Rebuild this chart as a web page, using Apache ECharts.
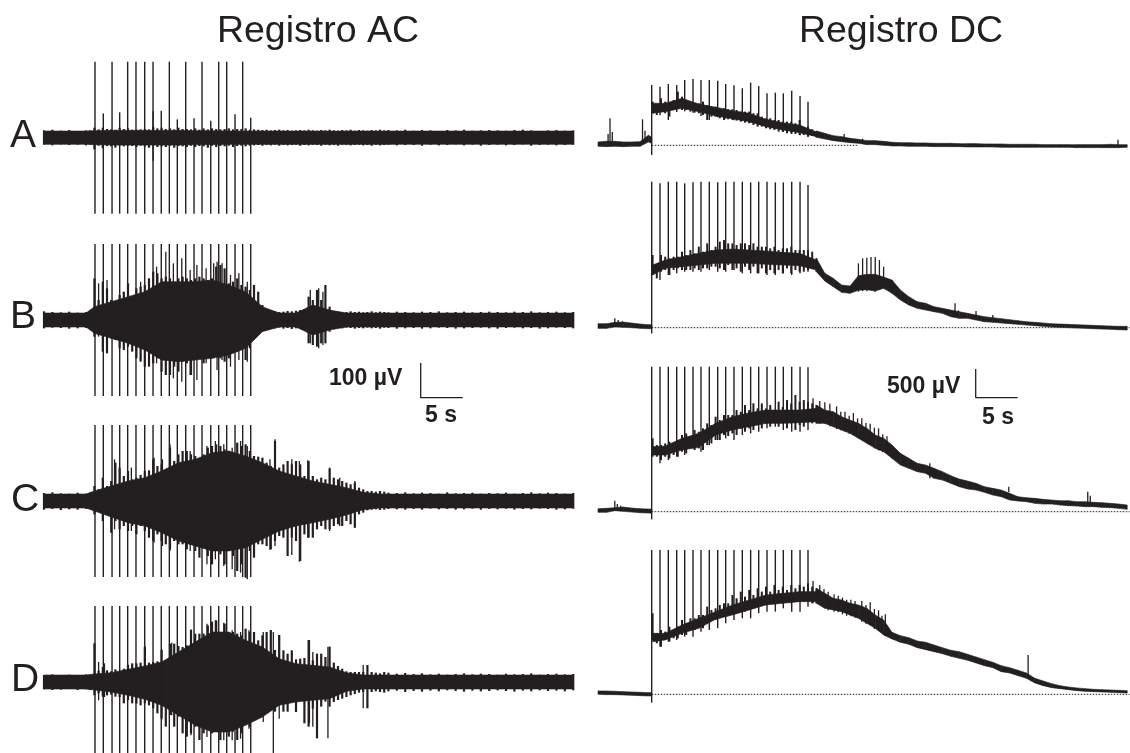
<!DOCTYPE html>
<html><head><meta charset="utf-8">
<style>html,body{margin:0;padding:0;background:#fff}#c{width:1130px;height:753px}</style>
<script src="https://cdn.jsdelivr.net/npm/echarts@6/dist/echarts.min.js"></script>
</head><body><div id="c"></div>
<script>
// AC traces: seconds, µV around the trace's rest level
const tAC=[0,1,2,3,4,5,5.5,6,6.5,7,
7.5,8,8.5,9,9.5,10,10.5,11,11.5,12,
12.5,13,13.5,14,14.5,15,15.5,16,16.5,17,
17.5,18,18.5,19,19.5,20,20.5,21,21.5,22,
22.5,23,23.5,24,24.5,25,25.5,26,26.5,27,
27.5,28,28.5,29,29.5,30,30.5,31,31.5,32,
32.5,33,33.5,34,34.5,35,35.5,36,36.5,37,
37.5,38,38.5,39,39.5,40,40.5,41,42,43,
44,45,46,47,48,49,50,51,52,53,
54,55,56,57,58,59,60,61,62,63];
const acHiA=[22,24,21,23,20,22,22,30,25,30,26,25,24,30,26,28,24,24,25,26,25,32,28,30,26,28,25,30,26,26,25,28,24,28,25,28,26,25,26,28,25,26,26,28,24,25,24,23,24,22,23,24,22,23,21,22,23,22,24,22,21,23,22,24,22,21,23,22,24,21,23,22,21,23,22,24,22,23,22,24,21,23,22,20,23,22,24,21,22,23,22,21,23,24,22,20,22,23,21,22];
const acLoA=[21,23,20,22,21,23,21,35,24,32,25,26,30,24,26,24,25,28,24,26,30,24,28,26,28,24,30,25,26,28,24,28,25,26,30,24,28,25,26,24,28,25,24,26,24,23,22,24,22,23,21,24,22,23,22,21,24,22,23,21,22,24,21,23,22,24,21,22,23,22,21,23,22,24,21,23,22,21,23,22,22,24,21,23,22,20,23,21,24,22,21,23,22,20,24,22,21,23,22,21];
const acHiB=[26,24,23,25,22,24,25,125,60,115,95,60,50,75,85,110,70,95,100,105,125,145,140,125,130,125,115,125,130,125,120,125,130,125,120,125,160,165,155,110,115,125,105,100,90,105,85,45,25,24,26,24,25,27,26,28,30,32,70,60,90,60,105,40,24,25,23,24,26,24,25,23,24,26,23,25,24,23,25,24,23,25,24,26,23,24,25,23,24,25,24,23,25,24,26,23,24,25,23,24];
const acLoB=[25,23,24,26,25,24,25,50,45,95,100,55,60,85,90,80,95,115,125,140,140,130,115,155,165,165,140,155,125,130,165,115,115,130,100,115,95,115,125,115,95,95,90,120,85,55,30,25,26,24,25,23,26,24,27,25,26,28,70,75,80,70,70,35,26,24,25,23,24,26,24,25,23,25,24,26,23,24,26,25,24,26,25,23,24,26,25,24,23,25,26,24,23,25,24,26,25,23,24,25];
const acHiC=[24,26,23,22,25,22,25,45,35,70,45,60,115,100,75,90,65,70,78,90,92,125,105,110,95,160,120,140,150,150,140,135,125,140,160,165,170,165,155,150,145,175,165,170,150,135,133,130,115,105,180,100,110,120,110,120,110,75,120,75,65,70,65,98,70,65,60,55,50,55,40,35,30,30,28,30,28,25,24,26,23,25,24,22,26,23,24,25,22,24,23,25,22,24,26,23,25,24,22,24];
const acLoC=[26,24,27,25,26,24,22,40,30,60,40,95,60,85,75,90,75,100,75,90,110,120,100,120,130,145,120,130,130,145,125,150,170,140,165,190,140,160,190,150,165,210,190,230,150,170,130,130,135,145,120,105,110,165,110,120,180,100,110,110,85,75,85,85,75,70,75,60,70,80,40,35,28,26,25,27,26,24,25,26,24,26,23,25,24,26,25,23,26,24,25,23,26,24,25,23,24,26,25,23];
const acHiD=[21,23,20,22,21,23,22,116,34,45,35,32,38,33,40,52,56,56,58,106,58,60,62,96,62,115,115,108,105,110,156,145,145,145,170,181,185,145,175,150,150,145,140,160,150,150,125,140,150,156,96,141,95,85,95,68,70,72,126,65,85,85,75,106,58,48,40,32,30,30,30,30,51,30,28,26,30,28,25,27,24,26,23,25,22,24,26,23,25,24,22,25,23,24,26,22,24,25,23,24];
const acLoD=[22,24,23,21,24,22,24,40,34,44,40,38,44,45,64,54,64,65,70,64,70,79,94,109,134,99,134,104,154,164,154,134,174,154,124,154,144,174,134,164,149,174,154,124,134,104,104,99,90,74,89,54,89,89,60,90,54,124,134,80,169,74,59,74,60,54,50,45,40,36,32,30,79,30,28,30,32,28,26,30,27,29,26,28,25,27,29,26,28,27,25,27,29,26,28,25,27,26,28,25];
// solid core of each AC trace
const tBody=[0,5,6,8,10,12,14,16,18,20,22,24,26,28,30,32,34,36,38,40,42,63];
const coreHiA=[20,20,21,22,22,22,22,22,21,21,20,20,20,20,20,20,20,20,20,20,20,20];
const coreLoA=[20,20,21,22,22,22,22,22,21,21,20,20,20,20,20,20,20,20,20,20,20,20];
const coreHiB=[21,21,40,55,70,85,115,115,115,120,105,85,40,21,21,45,30,21,21,21,21,21];
const coreLoB=[21,21,40,55,70,90,120,125,120,115,105,85,35,21,21,45,30,21,21,21,21,21];
const coreHiC=[21,21,30,45,60,70,90,115,125,145,150,135,115,90,75,60,50,40,26,21,21,21];
const coreLoC=[21,21,30,48,65,75,95,120,135,150,150,140,115,90,75,65,55,42,26,21,21,21];
const coreHiD=[21,21,24,28,38,48,60,90,120,150,150,125,105,70,55,50,45,28,21,21,21,21];
const coreLoD=[21,21,24,30,40,52,70,100,130,150,150,130,105,70,60,55,50,28,21,21,21,21];
const stimAC=[6.07,7.06,8.10,9.01,9.96,10.95,11.99,12.98,13.96,14.92,15.87,16.87,17.86,18.81,19.85,20.80,21.75,22.74,23.65,24.61];
const stimTopA=[228,73,228,76,228,228,228,228,81,228,55,228,58,228,51,228,228,70,228,60];
const stimTopFull=[228,228,228,228,228,228,228,228,228,228,228,228,228,228,228,228,228,228,228,228];
const stimBotFull=[228,228,228,228,228,228,228,228,228,228,228,228,228,228,228,228,228,228,228,228];
// extra thin deflections [time, up, down]
const acExtraA=[[12.98,80,70]];
const acExtraB=[[6.5,110,50],[7.5,120,90],[11.5,115,120],[13.4,160,130],[14.5,205,90],[15.4,170,175],[16.4,185,185],[17.4,150,165],[18.2,165,180],[19.3,155,130],[20.2,170,100],[20.6,175,150],[21.2,170,120],[22.2,135,140],[23.2,140,120],[24.2,115,125],[31.7,90,70],[32.7,95,85],[33.2,85,75]];
const acExtraC=[[8.4,125,85],[10.4,100,90],[13.1,130,125],[14.1,125,135],[15,170,150],[17.4,150,150],[19.4,165,190],[20.4,180,175],[21.4,170,195],[22.4,160,205],[23.4,180,215],[24.2,165,235],[26.9,125,147],[27.5,185,135],[29.5,125,162],[30.4,120,182],[31.4,122,110],[34,100,90],[35.2,70,75],[37,60,80]];
const acExtraD=[[6.5,60,55],[7.2,56,45],[12,106,60],[14,100,115],[15.2,118,100],[17.5,158,160],[19.4,175,165],[20.4,185,150],[21.4,178,175],[22.4,155,175],[23.4,150,170],[24.4,155,140],[26.1,150,120],[27.3,150,228],[28,141,110],[31.6,126,124],[32,90,134],[33.8,106,169],[38,51,79]];

// DC traces: seconds, µV above the dotted zero line
const tDC=[0,1,2,3,4,5,6,6.4,
6.5,7,7.5,8,8.5,9,9.5,10,10.5,11,11.5,12,12.5,13,13.5,14,14.5,15,15.5,16,16.5,17,17.5,18,18.5,19,19.5,20,20.5,21,21.5,22,22.5,23,23.5,24,24.5,25,25.5,26,
27,28,29,30,31,32,33,34,
35,36,37,38,39,40,41,42,43,44,45,46,47,48,49,50,51,52,53,54,55,56,57,58,59,60,61,62,63];
const dcHiA=[50,60,60,50,50,55,150,120,
655,605,705,655,630,680,805,730,670,630,630,630,655,605,580,580,555,555,540,540,530,505,505,505,480,480,430,405,405,380,380,355,355,355,330,380,255,280,240,215,
180,145,130,105,90,70,70,60,
45,40,40,35,35,30,30,30,25,25,25,20,20,20,15,15,15,15,10,10,10,10,10,10,10,10,15,10,10];
const dcLoA=[-15,-20,-15,-20,-15,-15,50,30,
480,455,505,480,430,530,555,530,530,505,490,480,455,380,430,430,405,380,390,380,370,355,340,330,305,280,280,255,240,230,205,205,180,180,170,155,155,130,140,120,
95,70,55,40,30,10,10,0,
-10,-10,-15,-15,-15,-20,-20,-20,-20,-25,-25,-25,-25,-30,-30,-30,-30,-30,-30,-30,-30,-30,-35,-35,-35,-35,-35,-35,-30];
const dcHiB=[60,60,80,85,70,55,45,45,
1090,890,1090,1065,1040,1065,1065,1140,1090,1165,1115,1215,1140,1265,1165,1215,1290,1315,1265,1265,1240,1265,1265,1240,1265,1215,1215,1215,1190,1215,1165,1190,1190,1215,1165,1165,1165,1165,1140,1040,
815,740,640,625,780,800,800,760,
715,565,465,390,365,315,290,265,240,215,190,165,150,135,120,105,90,80,70,60,55,50,45,40,35,30,25,20,20];
const dcLoB=[-10,-10,10,5,0,-10,-15,-15,
790,740,840,865,790,865,890,865,865,865,890,865,890,890,915,915,890,865,940,865,890,840,915,865,915,815,890,815,865,815,865,815,890,815,865,840,840,865,965,840,
700,615,530,515,560,570,550,590,
515,415,340,290,265,240,215,165,140,140,115,90,80,70,60,50,40,30,20,10,5,0,-5,-10,-15,-20,-25,-30,-35];
const dcHiC=[45,50,60,70,55,45,40,40,
1100,1000,1000,1025,1050,1025,1075,1150,1175,1135,1225,1200,1250,1325,1300,1425,1375,1450,1450,1450,1525,1500,1600,1525,1625,1550,1625,1550,1600,1525,1650,1575,1675,1625,1750,1650,1675,1650,1625,1600,
1525,1500,1425,1375,1325,1250,1150,1100,
1000,875,800,725,700,650,600,540,490,460,425,375,350,325,275,225,210,200,185,175,165,165,150,150,140,135,125,115,100];
const dcLoC=[-10,-10,15,5,-5,-15,-20,-25,
825,825,775,825,800,850,825,900,875,950,925,950,925,1000,1025,1075,1075,1150,1135,1175,1150,1250,1200,1250,1225,1300,1250,1325,1275,1350,1275,1325,1250,1325,1225,1300,1275,1350,1325,1325,
1325,1275,1225,1175,1100,1025,950,900,
800,700,650,600,575,500,475,425,375,340,325,290,250,225,175,160,150,125,115,115,100,90,85,75,75,65,60,50,35];
const dcHiD=[50,50,45,40,35,30,25,25,
1215,915,965,940,1015,965,1015,1115,1065,1140,1140,1190,1190,1315,1265,1290,1340,1365,1365,1490,1440,1540,1465,1565,1490,1590,1540,1615,1540,1640,1565,1615,1565,1640,1590,1640,1615,1665,1615,1590,
1515,1440,1415,1365,1340,1290,1190,1115,
930,880,850,800,780,740,700,660,640,600,560,520,480,430,400,360,320,240,200,160,130,110,95,85,75,70,65,60,55];
const dcLoD=[0,-5,-5,-10,-15,-20,-25,-25,
815,765,715,815,790,840,840,890,890,965,965,1015,990,1115,1115,1115,1140,1165,1190,1215,1240,1265,1240,1315,1290,1340,1340,1365,1365,1365,1390,1365,1390,1365,1415,1390,1390,1415,1365,1365,
1290,1265,1240,1190,1140,1065,990,890,
830,780,750,700,670,640,610,570,540,510,470,430,400,340,320,280,240,170,130,100,85,70,55,45,40,35,30,25,20];
// solid core of each DC trace while the pulses run
const tCoreDC=[6.5,8,10,12,14,16,18,20,22,24,26];
const dcCoreHiA=[630,630,705,620,570,520,480,390,340,305,200];
const dcCoreLoA=[480,505,555,505,440,400,355,280,230,190,130];
const dcCoreHiB=[940,1015,1065,1115,1165,1180,1165,1150,1130,1115,1015];
const dcCoreLoB=[790,890,915,940,965,965,965,950,940,930,865];
const dcCoreHiC=[975,985,1100,1175,1325,1425,1485,1525,1525,1525,1550];
const dcCoreLoC=[850,850,925,965,1150,1225,1275,1325,1325,1335,1350];
const dcCoreHiD=[915,915,1040,1140,1240,1340,1415,1490,1515,1540,1540];
const dcCoreLoD=[790,815,915,990,1125,1190,1265,1340,1365,1390,1390];
const stimDC=[6.39,7.38,8.37,9.37,10.32,11.31,12.26,13.25,14.25,15.2,16.19,17.18,18.17,19.13,20.12,21.11,22.06,23.06,24.05,25];
const dcTopA=[905,880,920,905,980,995,980,980,970,920,900,855,940,890,780,790,780,820,740,655];
const dcBotA=[-145,450,380,500,510,490,440,380,420,400,375,365,340,310,270,250,200,170,150,130];
const dcTopB=[2190,2165,2190,2190,2165,2180,2190,2190,2180,2190,2190,2190,2180,2190,2190,2180,2180,2190,2190,2140];
const dcBotB=[-85,715,790,815,840,840,840,865,840,840,865,815,815,815,790,790,815,790,815,840];
const dcTopC=[2175,2175,2175,2175,2175,2175,2175,2175,2175,2175,2175,2175,2175,2175,2175,2175,2175,2175,2175,2165];
const dcBotC=[-115,725,775,825,850,950,900,1000,1075,1100,1075,1150,1175,1200,1250,1275,1225,1200,1200,1225];
const dcTopD=[2165,2165,2165,2165,2165,2165,2165,2165,2165,2165,2165,2165,2165,2165,2165,2165,2165,2165,2165,2165];
const dcBotD=[-125,715,790,815,865,865,940,965,990,1065,1115,1140,1140,1215,1240,1240,1290,1240,1240,1315];
const dcExtraA=[[1.2,170,10],[1.43,405,0],[1.7,200,40],[5.3,390,70],[5.6,220,60],[29.3,170,100],[31.5,100,40],[61.9,85,0]];
const dcExtraB=[[2,140,20],[2.4,115,10],[2.9,95,5],[31,965,540],[31.5,1040,550],[32,1050,545],[32.5,1060,560],[33,1060,540],[33.5,1015,570],[34,915,590],[42.5,365,170],[42.9,260,170],[45,250,160],[47,190,120]];
const dcExtraC=[[2,165,10],[2.3,115,10],[2.7,90,5],[25.6,1700,1350],[26.4,1660,1320],[27,1640,1320],[27.6,1620,1280],[28.4,1580,1240],[28.9,1500,1220],[29.4,1500,1200],[29.9,1440,1170],[30.4,1480,1150],[30.9,1400,1120],[31.4,1400,1080],[31.9,1330,1050],[32.4,1320,1000],[32.9,1260,960],[33.4,1250,920],[33.9,1160,890],[34.4,1130,880],[39.5,725,500],[48.9,375,290],[58.3,300,120],[58.6,240,130]];
const dcExtraD=[[25.6,1700,1370],[26.4,1640,1340],[26.9,1580,1300],[27.4,1540,1260],[28.1,1500,1240],[28.6,1480,1230],[29.1,1450,1200],[29.6,1420,1180],[30.1,1420,1170],[30.6,1400,1150],[31.4,1400,1090],[31.9,1340,1060],[32.4,1380,1040],[32.9,1280,980],[33.4,1260,950],[33.8,1180,920],[34.2,1200,880],[51.2,590,270]];
const dcZeroEnd=[31,63.3,63.3,63.3];
const scaleAC=[[0,100],[0,0],[5,0]];
const scaleDC=[[0,500],[0,0],[5,0]];
const titles=['Registro AC','Registro DC'];
const rowLetters=['A','B','C','D'];

const ink='#231f20';
const acCenter=[137.7,320,501,682], dcBase=[145.3,327.7,511.7,694.3], dcMax=[1500,2250,2250,2250];
const acHi=[acHiA,acHiB,acHiC,acHiD], acLo=[acLoA,acLoB,acLoC,acLoD];
const coreHi=[coreHiA,coreHiB,coreHiC,coreHiD], coreLo=[coreLoA,coreLoB,coreLoC,coreLoD];
const acTop=[stimTopA,stimTopFull,stimTopFull,stimTopFull];
const acExtra=[acExtraA,acExtraB,acExtraC,acExtraD];
const dcHi=[dcHiA,dcHiB,dcHiC,dcHiD], dcLo=[dcLoA,dcLoB,dcLoC,dcLoD];
const dcCoreHi=[dcCoreHiA,dcCoreHiB,dcCoreHiC,dcCoreHiD], dcCoreLo=[dcCoreLoA,dcCoreLoB,dcCoreLoC,dcCoreLoD];
const dcTop=[dcTopA,dcTopB,dcTopC,dcTopD], dcBot=[dcBotA,dcBotB,dcBotC,dcBotD];
const dcExtra=[dcExtraA,dcExtraB,dcExtraC,dcExtraD];

function bandItem(p,api){
  const a=api.coord([api.value(0),api.value(2)]),b=api.coord([api.value(1),api.value(3)]),
        c=api.coord([api.value(1),api.value(5)]),d=api.coord([api.value(0),api.value(4)]);
  return {type:'polygon',shape:{points:[a,b,c,d]},style:{fill:ink,stroke:ink,lineWidth:0.6}};
}
function tickItem(w){return function(p,api){
  const a=api.coord([api.value(0),api.value(1)]),b=api.coord([api.value(0),api.value(2)]);
  return {type:'line',shape:{x1:a[0],y1:a[1],x2:b[0],y2:b[1]},style:{stroke:ink,lineWidth:w}};
};}
const grid=[],xAxis=[],yAxis=[],series=[];
function addGrid(g,xr,yr){
  const i=grid.length;grid.push(Object.assign({outerBoundsMode:'none'},g));
  xAxis.push({type:'value',gridIndex:i,min:xr[0],max:xr[1],show:false});
  yAxis.push({type:'value',gridIndex:i,min:yr[0],max:yr[1],show:false});
  return i;
}
function band(i,d){
  series.push({type:'custom',xAxisIndex:i,yAxisIndex:i,silent:true,clip:false,animation:false,
    encode:{x:[0,1],y:[2,3,4,5]},renderItem:bandItem,data:d});
}
function segs(t,hi,lo,sign,skip){
  const d=[];
  for(let k=0;k+1<t.length;k++){
    if(skip&&skip(t[k],t[k+1])) continue;
    d.push([t[k],t[k+1],hi[k],hi[k+1],sign*lo[k],sign*lo[k+1]]);
  }
  return d;
}
function ticks(i,d,w){
  series.push({type:'custom',xAxisIndex:i,yAxisIndex:i,silent:true,clip:false,animation:false,
    encode:{x:0,y:[1,2]},renderItem:tickItem(w),data:d});
}
const TMAX=63.33;
for(let r=0;r<4;r++){
  const i=addGrid({left:44,width:532,top:acCenter[r]-85,height:170},[0,TMAX],[-255,255]);
  band(i,segs(tBody,coreHi[r],coreLo[r],-1));
  ticks(i,tAC.map((t,k)=>[t,acHi[r][k],-acLo[r][k]]),2.2);
  ticks(i,stimAC.map((t,k)=>[t,acTop[r][k],-stimBotFull[k]]),1.4);
  ticks(i,acExtra[r].map(e=>[e[0],e[1],-e[2]]),1.3);
}
for(let r=0;r<4;r++){
  const i=addGrid({left:598,width:532,top:dcBase[r]-dcMax[r]/15,height:(dcMax[r]+300)/15},[0,TMAX],[-300,dcMax[r]]);
  series.push({type:'line',xAxisIndex:i,yAxisIndex:i,showSymbol:false,silent:true,animation:false,
    lineStyle:{color:ink,width:1,type:[1.5,1.5]},data:[[6.4,0],[dcZeroEnd[r],0]]});
  band(i,segs(tDC,dcHi[r],dcLo[r],1,(a,b)=>a>=6.4&&b<=26));
  band(i,segs(tCoreDC,dcCoreHi[r],dcCoreLo[r],1));
  ticks(i,tDC.map((t,k)=>[t,dcHi[r][k],dcLo[r][k]]).filter(e=>e[0]>=6.5&&e[0]<=26),2);
  ticks(i,stimDC.map((t,k)=>[t,dcTop[r][k],dcBot[r][k]]),1.4);
  ticks(i,dcExtra[r].map(e=>[e[0],e[1],e[2]]),1.3);
}
function scaleBar(g,pts,yMax){
  const i=addGrid(g,[0,5],[0,yMax]);
  series.push({type:'line',xAxisIndex:i,yAxisIndex:i,showSymbol:false,silent:true,animation:false,clip:false,
    lineStyle:{color:ink,width:1.3},data:pts});
}
scaleBar({left:420.7,top:363,width:42,height:34.7},scaleAC,100);
scaleBar({left:975.7,top:369,width:42,height:28.7},scaleDC,500);

function txt(s,x,y,size,weight,align){
  return {type:'text',x:x,y:y,silent:true,style:{text:s,fill:ink,fontFamily:'Liberation Sans',fontSize:size,fontWeight:weight||'normal',textAlign:align||'left',textVerticalAlign:'middle'}};
}
const graphic=[
  txt(titles[0],318,32,37.5,'normal','center'),txt(titles[1],901,32,37.5,'normal','center'),
  txt(rowLetters[0],10,136,39),txt(rowLetters[1],10,317,39),txt(rowLetters[2],11,500,39),txt(rowLetters[3],11,680,39),
  txt('100 µV',329,379,23,'bold'),txt('5 s',425,416,23,'bold'),
  txt('500 µV',887,387,23,'bold'),txt('5 s',982,418,23,'bold')
];
const chart=echarts.init(document.getElementById('c'),null,{renderer:'canvas'});
chart.setOption({animation:false,backgroundColor:'#fff',grid,xAxis,yAxis,series,graphic});
</script></body></html>
